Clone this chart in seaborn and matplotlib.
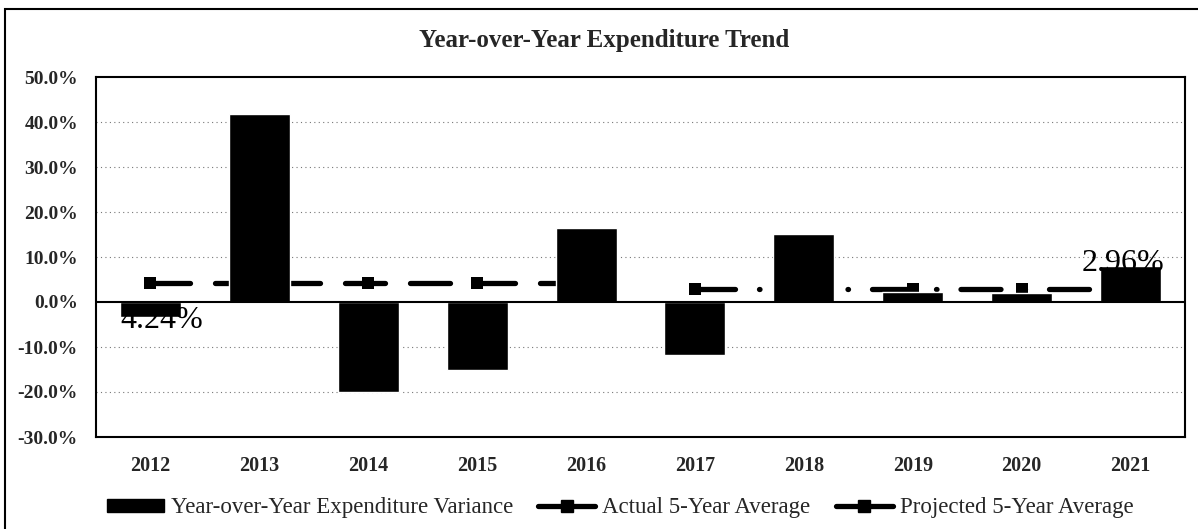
import numpy as np
import pandas as pd
import matplotlib
matplotlib.use("Agg")
import matplotlib.pyplot as plt
from matplotlib.patches import Rectangle, Patch
from matplotlib.lines import Line2D
import seaborn as sns

# Annual expenditure variance (%) and 5-year averages
years = ["2012", "2013", "2014", "2015", "2016", "2017", "2018", "2019", "2020", "2021"]
variance = [-3.3, 41.8, -19.9, -15.1, 16.4, -11.8, 15.1, 2.2, 2.0, 8.0]
actual_years = ["2012", "2013", "2014", "2015", "2016"]
actual_avg = [4.24, 4.24, 4.24, 4.24, 4.24]
projected_years = ["2017", "2018", "2019", "2020", "2021"]
projected_avg = [2.96, 2.96, 2.96, 2.96, 2.96]
y_ticks = [-30, -20, -10, 0, 10, 20, 30, 40, 50]

sns.set_theme(style="white")
plt.rcParams["font.family"] = ["Liberation Serif", "DejaVu Serif"]

DPI = 100
fig = plt.figure(figsize=(11.98, 5.29), dpi=DPI)
ax = fig.add_axes([96 / 1198, 1 - 437 / 529, (1185 - 96) / 1198, (437 - 77) / 529])

df = pd.DataFrame({"year": years, "variance": variance})
actual_df = pd.DataFrame({"pos": [years.index(y) for y in actual_years], "avg": actual_avg})
proj_df = pd.DataFrame({"pos": [years.index(y) for y in projected_years], "avg": projected_avg})

# Average lines sit underneath the bars; dash lengths given in pixels
lw = 3.8
ms = 8
lw_px = lw * DPI / 72


def px_dashes(*lengths):
    return tuple(v / lw_px for v in lengths)


sns.lineplot(data=actual_df, x="pos", y="avg", ax=ax, color="black", lw=lw,
             marker="s", markersize=ms, markeredgewidth=0, zorder=1)
line_actual = ax.lines[-1]
line_actual.set_linestyle((0, px_dashes(40, 25)))
line_actual.set_dash_capstyle("round")

sns.lineplot(data=proj_df, x="pos", y="avg", ax=ax, color="black", lw=lw,
             marker="s", markersize=ms, markeredgewidth=0, zorder=1)
line_proj = ax.lines[-1]
line_proj.set_linestyle((0, px_dashes(40, 24, 0.5, 24)))
line_proj.set_dash_capstyle("round")

sns.barplot(data=df, x="year", y="variance", color="black", width=0.56,
            saturation=1, ax=ax, zorder=2)

ax.set_ylim(-30, 50)
ax.set_xlim(-0.5, len(years) - 0.5)
ax.set_yticks(y_ticks)
ax.set_yticklabels([f"{v:.1f}%" for v in y_ticks], fontsize=14, fontweight="bold")
ax.set_xticklabels(years, fontsize=14.5, fontweight="bold")
ax.tick_params(axis="y", length=0, pad=13)
ax.tick_params(axis="x", length=0, pad=14)
ax.set_xlabel("")
ax.set_ylabel("")

# Dotted gridlines and a solid zero line
for v in y_ticks:
    if v in (-30, 0, 50):
        continue
    ax.axhline(v, color="#777777", lw=0.8, ls=(0, (1, 3)), zorder=0)
ax.axhline(0, color="black", lw=1.5, zorder=3)

for s in ax.spines.values():
    s.set_color("black")
    s.set_linewidth(1.5)

# Value labels for the averages
ax.text(years.index(actual_years[0]) + 0.1, actual_avg[0] - 8.4, f"{actual_avg[0]:.2f}%",
        ha="center", va="center", fontsize=23, color="black", zorder=4)
ax.text(years.index(projected_years[-1]) - 0.07, projected_avg[-1] + 5.5, f"{projected_avg[-1]:.2f}%",
        ha="center", va="center", fontsize=23, color="black", zorder=4)

fig.text(604 / 1198, 1 - 40 / 529, "Year-over-Year Expenditure Trend",
         ha="center", va="center", fontsize=18, fontweight="bold")

# Outer chart border
fig.patches.append(Rectangle((5 / 1198, -0.05), 1.1, 1 - 9 / 529 + 0.05,
                             transform=fig.transFigure, fill=False,
                             edgecolor="black", lw=1.5))

handles = [
    Patch(facecolor="black", edgecolor="black"),
    Line2D([0], [0], color="black", lw=lw, marker="s", markersize=ms),
    Line2D([0], [0], color="black", lw=lw, marker="s", markersize=ms),
]
labels = ["Year-over-Year Expenditure Variance", "Actual 5-Year Average", "Projected 5-Year Average"]
fig.legend(handles, labels, loc="center", bbox_to_anchor=(620 / 1198, 1 - 508 / 529),
           ncol=3, frameon=False, fontsize=16.5, handlelength=2.5, handleheight=0.5,
           handletextpad=0.3, columnspacing=1.1)

fig.savefig("out.png", dpi=DPI)
